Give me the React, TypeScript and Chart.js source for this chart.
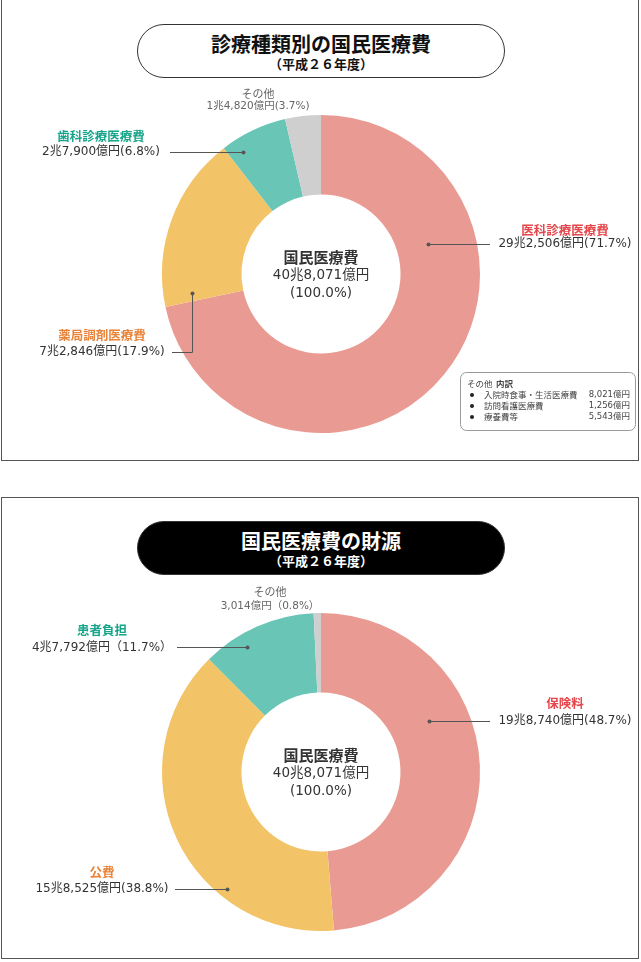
import React, { useEffect, useRef } from "react";
import { Chart, registerables } from "chart.js";

Chart.register(...registerables);

const FONT = '"Noto Sans CJK JP", "Noto Sans", sans-serif';
const NUMFONT = '"DejaVu Sans", "Noto Sans CJK JP", sans-serif';

// ---- Chart 1: 診療種類別の国民医療費 (億円) ----
const medCategories = ["医科診療医療費", "薬局調剤医療費", "歯科診療医療費", "その他"];
const medValues = [292506, 72846, 27900, 14820];
const medValueLabels = ["29兆2,506億円(71.7%)", "7兆2,846億円(17.9%)", "2兆7,900億円(6.8%)", "1兆4,820億円(3.7%)"];

// ---- Chart 2: 国民医療費の財源 (億円) ----
const srcCategories = ["保険料", "公費", "患者負担", "その他"];
const srcValues = [198740, 158525, 47792, 3014];
const srcValueLabels = ["19兆8,740億円(48.7%)", "15兆8,525億円(38.8%)", "4兆7,792億円（11.7%）", "3,014億円（0.8%）"];

const totalLines = ["国民医療費", "40兆8,071億円", "(100.0%)"];

const otherItems = ["入院時食事・生活医療費", "訪問看護医療費", "療養費等"];
const otherItemValues = ["8,021億円", "1,256億円", "5,543億円"];

const sliceColors = ["#E99B93", "#F3C467", "#69C6B6", "#CFCFCF"];
const labelColors = ["#E5464B", "#E8833A", "#16A58A", "#666666"];

type Spec = {
  cx: number; nameY: number; valueY: number;
  t?: number; rf?: number; lineY?: number; lineEndX?: number; small?: boolean;
};

const medSpecs: Spec[] = [
  { cx: 565, nameY: 230, valueY: 244, t: 0.288, rf: 0.4, lineY: 244, lineEndX: 490 },
  { cx: 102, nameY: 335, valueY: 352, t: 0.054, rf: 0.64, lineY: 352, lineEndX: 172 },
  { cx: 101, nameY: 136, valueY: 152, t: 0.198, rf: 0.82, lineY: 152, lineEndX: 170 },
  { cx: 258, nameY: 93.5, valueY: 106, small: true },
];

const srcSpecs: Spec[] = [
  { cx: 565, nameY: 223, valueY: 241, t: 0.369, rf: 0.5, lineY: 241, lineEndX: 490 },
  { cx: 102, nameY: 392, valueY: 409, t: 0.311, rf: 0.89, lineY: 409, lineEndX: 175 },
  { cx: 102, nameY: 150, valueY: 168, t: 0.333, rf: 0.83, lineY: 167, lineEndX: 177 },
  { cx: 270, nameY: 112, valueY: 126, small: true },
];

function makePlugin(names: string[], valueLabels: string[], specs: Spec[], withLegend: boolean) {
  return {
    id: "annot",
    afterDraw(chart: any) {
      const ctx: CanvasRenderingContext2D = chart.ctx;
      const meta = chart.getDatasetMeta(0);
      ctx.save();
      ctx.textAlign = "center";
      ctx.textBaseline = "middle";
      specs.forEach((s, i) => {
        const arc = meta.data[i];
        const p = arc.getProps(["x", "y", "startAngle", "endAngle", "innerRadius", "outerRadius"], true);
        if (s.small) {
          ctx.fillStyle = "#666666";
          ctx.font = `11px ${FONT}`;
          ctx.fillText(names[i], s.cx, s.nameY);
          ctx.font = `10.5px ${NUMFONT}`;
          ctx.fillText(valueLabels[i], s.cx, s.valueY);
          return;
        }
        ctx.fillStyle = labelColors[i];
        ctx.font = `bold 12.5px ${FONT}`;
        ctx.fillText(names[i], s.cx, s.nameY);
        ctx.fillStyle = "#333333";
        ctx.font = `12px ${NUMFONT}`;
        ctx.fillText(valueLabels[i], s.cx, s.valueY);
        const a = p.startAngle + (s.t as number) * (p.endAngle - p.startAngle);
        const r = p.innerRadius + (s.rf as number) * (p.outerRadius - p.innerRadius);
        const dx = p.x + Math.cos(a) * r;
        const dy = p.y + Math.sin(a) * r;
        const ly = Math.round(s.lineY as number) + 0.5;
        const vx = Math.round(dx) + 0.5;
        ctx.strokeStyle = "#555555";
        ctx.lineWidth = 1;
        ctx.beginPath();
        ctx.moveTo(vx, Math.round(dy) + 0.5);
        ctx.lineTo(vx, ly);
        ctx.lineTo(s.lineEndX as number, ly);
        ctx.stroke();
        ctx.fillStyle = "#555555";
        ctx.beginPath();
        ctx.arc(vx, Math.round(dy) + 0.5, 2, 0, Math.PI * 2);
        ctx.fill();
      });
      // center text
      const c = meta.data[0].getProps(["x", "y"], true);
      ctx.fillStyle = "#333333";
      ctx.font = `bold 15px ${FONT}`;
      ctx.fillText(totalLines[0], c.x, c.y - 17);
      ctx.font = `13.5px ${NUMFONT}`;
      ctx.fillText(totalLines[1], c.x, c.y + 1);
      ctx.fillText(totalLines[2], c.x, c.y + 19);

      if (withLegend) {
        ctx.strokeStyle = "#999999";
        ctx.lineWidth = 1;
        ctx.beginPath();
        (ctx as any).roundRect(460.5, 372.5, 175, 58, 6);
        ctx.stroke();
        ctx.textAlign = "left";
        ctx.fillStyle = "#444444";
        ctx.font = `8.5px ${FONT}`;
        ctx.fillText("その他", 467, 384);
        ctx.font = `bold 8.5px ${FONT}`;
        ctx.fillText("内訳", 496, 384);
        otherItems.forEach((it, k) => {
          const y = 395 + k * 11;
          ctx.fillStyle = "#222222";
          ctx.beginPath();
          ctx.arc(472, y, 2, 0, Math.PI * 2);
          ctx.fill();
          ctx.fillStyle = "#444444";
          ctx.font = `8.5px ${FONT}`;
          ctx.textAlign = "left";
          ctx.fillText(it, 484, y);
          ctx.textAlign = "right";
          ctx.font = `8.5px ${NUMFONT}`;
          ctx.fillText(otherItemValues[k], 630, y);
        });
      }
      ctx.restore();
    },
  };
}

function Donut(props: {
  top: number; height: number; padTop: number; values: number[]; names: string[];
  valueLabels: string[]; specs: Spec[]; legend: boolean;
}) {
  const ref = useRef<HTMLCanvasElement>(null);
  useEffect(() => {
    const { height, padTop, values, names, valueLabels, specs, legend } = props;
    const chart = new Chart(ref.current as HTMLCanvasElement, {
      type: "doughnut",
      data: {
        labels: names,
        datasets: [{ data: values, backgroundColor: sliceColors, borderWidth: 0, hoverOffset: 0, offset: 0 } as any],
      },
      options: {
        responsive: false,
        animation: false,
        events: [],
        radius: 159,
        cutout: 79.5,
        layout: { padding: { left: 162, right: 161, top: padTop, bottom: height - padTop - 318 } },
        plugins: { legend: { display: false }, tooltip: { enabled: false } },
      } as any,
      plugins: [makePlugin(names, valueLabels, specs, legend) as any],
    });
    return () => chart.destroy();
  }, []);
  return (
    <canvas
      ref={ref}
      width={641}
      height={props.height}
      style={{ position: "absolute", left: 0, top: props.top, width: 641, height: props.height }}
    />
  );
}

function TitlePill(props: { top: number; dark: boolean; title: string; sub: string }) {
  return (
    <div
      style={{
        position: "absolute", left: 137, top: props.top, width: 368, height: 54, boxSizing: "border-box",
        border: "1.5px solid #333", borderRadius: 27, background: props.dark ? "#000" : "#fff",
        color: props.dark ? "#fff" : "#111", fontFamily: FONT, textAlign: "center",
      }}
    >
      <div style={{ position: "absolute", left: 0, right: 0, top: 6, fontSize: 20, fontWeight: 700, lineHeight: "26px" }}>{props.title}</div>
      <div style={{ position: "absolute", left: 0, right: 0, top: 30, fontSize: 13, fontWeight: 700, lineHeight: "17px" }}>{props.sub}</div>
    </div>
  );
}

export default function App() {
  const panel = (top: number): React.CSSProperties => ({
    position: "absolute", left: 1, top, width: 638, height: 462, boxSizing: "border-box",
    border: "1px solid #555", background: "#fff",
  });
  return (
    <div style={{ position: "absolute", left: 0, top: 0, width: 641, height: 962, background: "#fff", overflow: "hidden" }}>
      <div style={panel(-1)} />
      <div style={panel(497)} />
      <TitlePill top={24} dark={false} title="診療種類別の国民医療費" sub="（平成２６年度）" />
      <TitlePill top={521} dark={true} title="国民医療費の財源" sub="（平成２６年度）" />
      <Donut top={0} height={480} padTop={115} values={medValues} names={medCategories}
        valueLabels={medValueLabels} specs={medSpecs} legend={true} />
      <Donut top={480} height={482} padTop={133} values={srcValues} names={srcCategories}
        valueLabels={srcValueLabels} specs={srcSpecs} legend={false} />
    </div>
  );
}
